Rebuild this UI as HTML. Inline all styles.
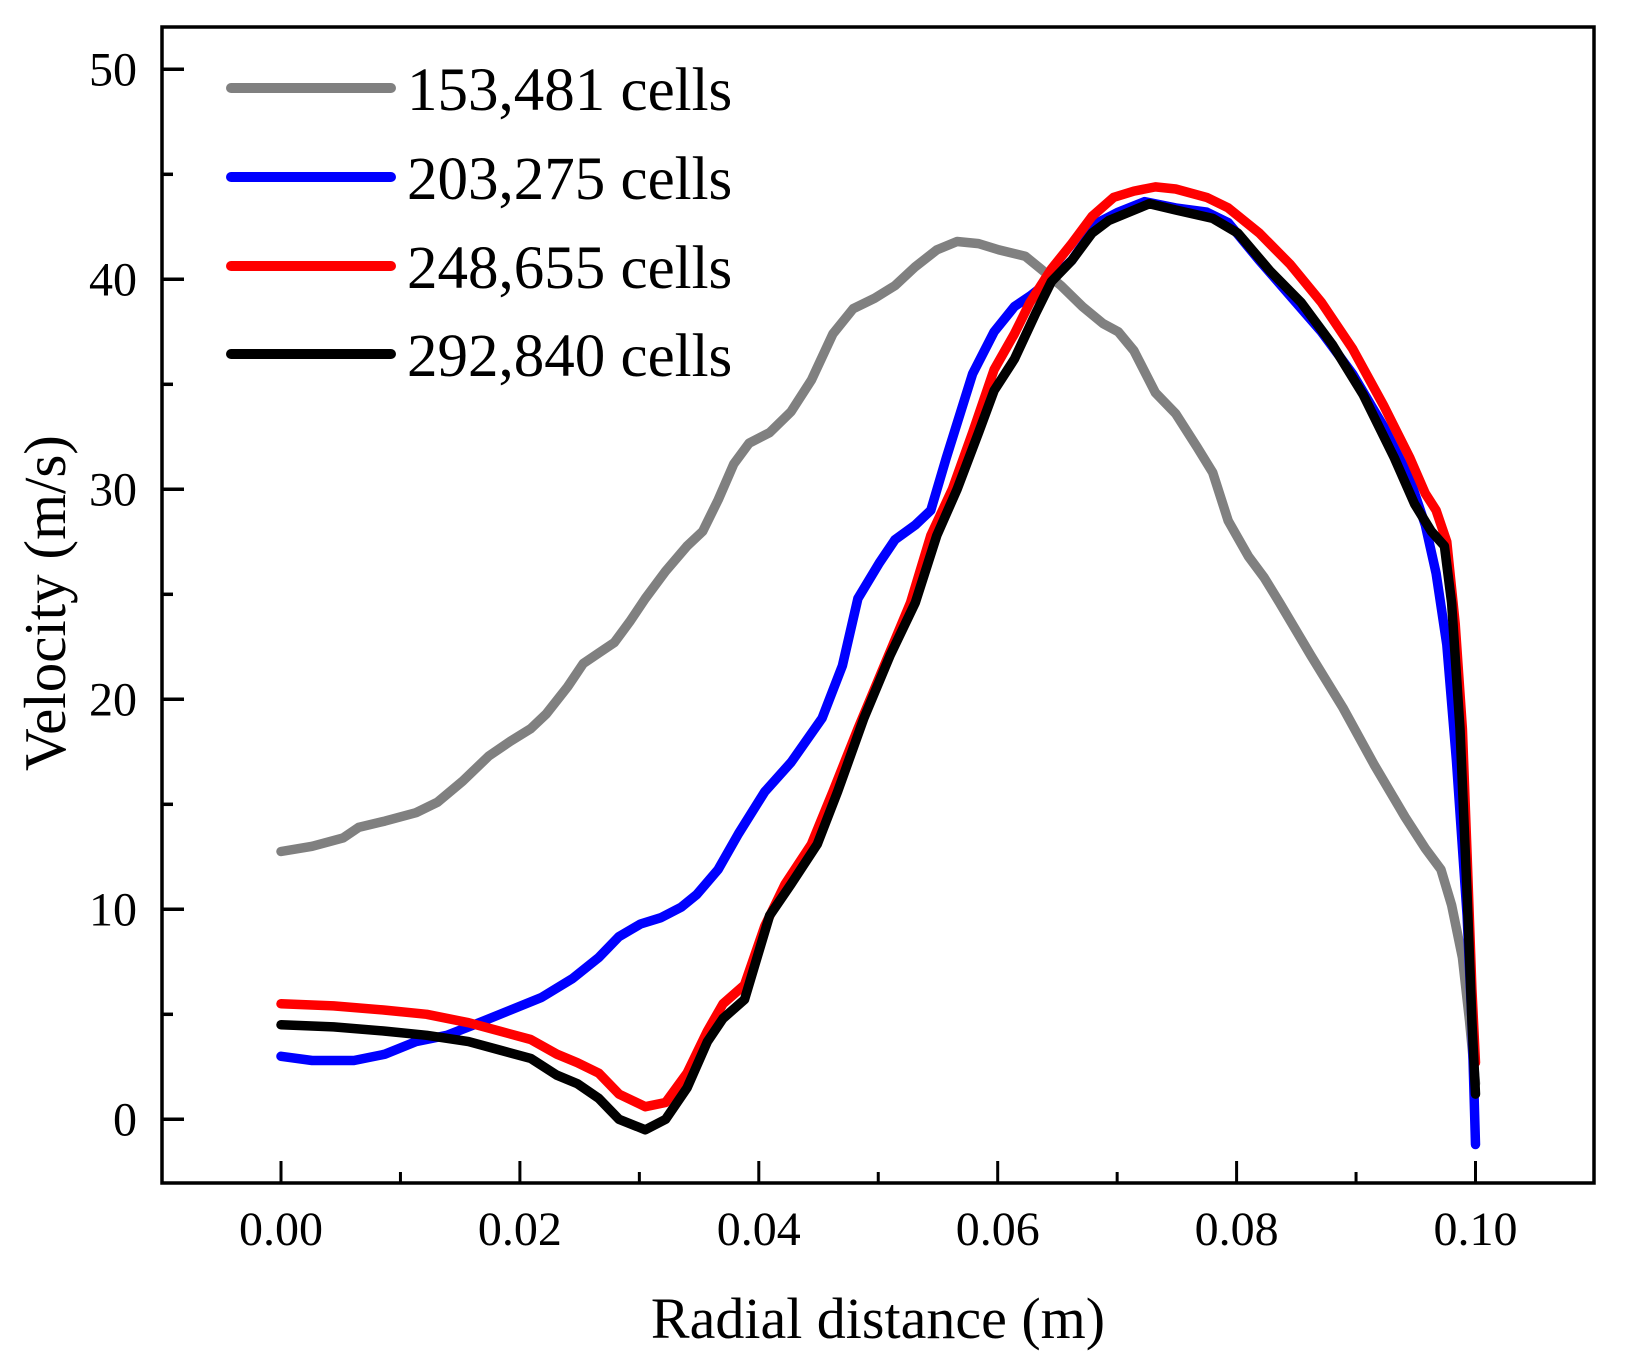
<!DOCTYPE html>
<html><head><meta charset="utf-8"><style>
html,body{margin:0;padding:0;background:#fff;}
svg{display:block;font-family:"Liberation Serif",serif;}
</style></head><body>
<svg id="chart" width="1632" height="1371" viewBox="0 0 1632 1371" xmlns="http://www.w3.org/2000/svg">
<g id="plot"></g>
<g id="axes"></g>
<g id="legend"></g>
<text x="878" y="1338" font-size="58" text-anchor="middle">Radial distance (m)</text>
<text transform="translate(65,603) rotate(-90)" font-size="59" text-anchor="middle">Velocity (m/s)</text>
</svg>
<script>
const seriesNames = ["153,481 cells","203,275 cells","248,655 cells","292,840 cells"];
const seriesColors = ["#808080","#0000ff","#ff0000","#000000"];
const xTicks = [0,0.02,0.04,0.06,0.08,0.10];
const xTickLabels = ["0.00","0.02","0.04","0.06","0.08","0.10"];
const yTicks = [0,10,20,30,40,50];
const yTickLabels = ["0","10","20","30","40","50"];

const grayX = [0,.0026,.0052,.0065,.0087,.0113,.0131,.0152,.0174,.0192,.0209,.0222,.0240,.0253,.0266,.0279,.0292,.0305,.0322,.0340,.0353,.0366,.0379,.0392,.0409,.0427,.0444,.0462,.0479,.0497,.0514,.0531,.0549,.0566,.0584,.0601,.0623,.0636,.0653,.0671,.0688,.0701,.0714,.0732,.0749,.0767,.0780,.0793,.0810,.0823,.0836,.0862,.0889,.0915,.0941,.0958,.0971,.0980,.0989,.0995,.1000];
const grayY = [12.75,13.0,13.4,13.9,14.2,14.6,15.1,16.1,17.3,18.0,18.6,19.3,20.6,21.7,22.2,22.7,23.7,24.8,26.1,27.3,28.0,29.5,31.2,32.2,32.7,33.7,35.2,37.4,38.6,39.1,39.7,40.6,41.4,41.8,41.7,41.4,41.1,40.5,39.7,38.7,37.9,37.5,36.6,34.6,33.6,32.0,30.8,28.5,26.8,25.8,24.6,22.1,19.6,16.9,14.4,12.9,11.9,10.2,7.7,4.7,1.7];
const blueX = [0,.0026,.0061,.0087,.0113,.0139,.0166,.0192,.0218,.0244,.0266,.0283,.0301,.0318,.0335,.0348,.0366,.0383,.0405,.0427,.0453,.0470,.0483,.0501,.0514,.0531,.0544,.0557,.0579,.0597,.0614,.0627,.0645,.0662,.0684,.0701,.0723,.0749,.0775,.0793,.0819,.0845,.0871,.0897,.0923,.0945,.0958,.0967,.0976,.0984,.0993,.0997,.1000];
const blueY = [3.0,2.8,2.8,3.1,3.7,4.0,4.6,5.2,5.8,6.7,7.7,8.7,9.3,9.6,10.1,10.7,11.9,13.6,15.6,17.0,19.1,21.6,24.8,26.5,27.6,28.3,29.0,31.5,35.5,37.5,38.7,39.2,40.0,40.9,42.7,43.2,43.7,43.4,43.2,42.7,40.9,39.2,37.5,35.5,33.0,30.5,28.3,26.0,22.6,17.1,9.7,4.7,-1.2];
const redX = [0,.0044,.0087,.0122,.0157,.0183,.0209,.0231,.0248,.0266,.0283,.0305,.0322,.0340,.0357,.0370,.0388,.0405,.0422,.0444,.0462,.0483,.0505,.0527,.0544,.0562,.0579,.0597,.0614,.0627,.0645,.0662,.0679,.0697,.0714,.0732,.0749,.0775,.0793,.0819,.0845,.0871,.0897,.0923,.0945,.0958,.0967,.0976,.0983,.0989,.0993,.0997,.1000];
const redY = [5.5,5.4,5.2,5.0,4.6,4.2,3.8,3.1,2.7,2.2,1.2,0.6,0.8,2.2,4.2,5.5,6.4,9.2,11.2,13.1,15.6,18.6,21.6,24.6,27.8,30.0,32.7,35.7,37.4,38.9,40.5,41.7,43.0,43.9,44.2,44.4,44.3,43.9,43.4,42.2,40.7,38.9,36.7,34.0,31.5,29.8,29.0,27.5,23.6,18.6,12.6,6.2,2.7];
const blackX = [0,.0044,.0087,.0122,.0157,.0183,.0209,.0231,.0248,.0266,.0283,.0305,.0322,.0340,.0357,.0370,.0388,.0409,.0427,.0449,.0466,.0488,.0510,.0531,.0549,.0566,.0584,.0597,.0614,.0632,.0645,.0662,.0679,.0693,.0710,.0727,.0749,.0780,.0801,.0828,.0854,.0880,.0906,.0932,.0949,.0963,.0974,.0980,.0987,.0993,.0997,.1000];
const blackY = [4.5,4.4,4.2,4.0,3.7,3.3,2.9,2.1,1.7,1.0,0.0,-0.5,0.0,1.5,3.7,4.8,5.7,9.7,11.2,13.1,15.6,19.1,22.1,24.6,27.8,30.0,32.7,34.7,36.2,38.4,39.9,40.9,42.2,42.8,43.2,43.6,43.3,42.9,42.2,40.4,38.9,36.9,34.5,31.5,29.3,28.0,27.3,24.6,18.6,10.7,4.7,1.2];

const NS = "http://www.w3.org/2000/svg";
const L = 162, R = 1594, T = 27, B = 1183;
function sx(v){ return 281 + (v - 0) * (1475.5 - 281) / 0.1; }
function sy(v){ return 1119.3 - v * (1119.3 - 69.3) / 50; }
function mk(tag, attrs, parent){ const e = document.createElementNS(NS, tag); for (const k in attrs) e.setAttribute(k, attrs[k]); parent.appendChild(e); return e; }

const plot = document.getElementById('plot');
const allX = [grayX, blueX, redX, blackX];
const allY = [grayY, blueY, redY, blackY];
const keys = ["gray","blue","red","black"];
for (let s = 0; s < 4; s++) {
  const d = allX[s].map((x, i) => (i ? 'L' : 'M') + sx(x).toFixed(1) + ' ' + sy(allY[s][i]).toFixed(1)).join(' ');
  const p = mk('path', {d: d, fill: 'none', stroke: seriesColors[s], 'stroke-width': 9.5, 'stroke-linejoin': 'round', 'stroke-linecap': 'round'}, plot);
  
  
}

const axes = document.getElementById('axes');
const frame = mk('rect', {x: L, y: T, width: R - L, height: B - T, fill: 'none', stroke: '#000', 'stroke-width': 3.5}, axes);


for (let i = 0; i < xTicks.length; i++) {
  const x = sx(xTicks[i]);
  const t = mk('line', {x1: x, x2: x, y1: B, y2: B - 22, stroke: '#000', 'stroke-width': 3}, axes);
  
  
  if (i < xTicks.length - 1) {
    const xm = sx(xTicks[i] + 0.01);
    const m = mk('line', {x1: xm, x2: xm, y1: B, y2: B - 11, stroke: '#000', 'stroke-width': 3}, axes);
    
    
  }
  const lb = mk('text', {x: x, y: 1245, 'font-size': 48, 'text-anchor': 'middle'}, axes);
  lb.textContent = xTickLabels[i];
  
  
}
for (let i = 0; i < yTicks.length; i++) {
  const y = sy(yTicks[i]);
  const t = mk('line', {x1: L, x2: L + 22, y1: y, y2: y, stroke: '#000', 'stroke-width': 3.5}, axes);
  
  
  if (i < yTicks.length - 1) {
    const ym = sy(yTicks[i] + 5);
    const m = mk('line', {x1: L, x2: L + 11, y1: ym, y2: ym, stroke: '#000', 'stroke-width': 3.5}, axes);
    
    
  }
  const lb = mk('text', {x: 137, y: y + 16, 'font-size': 48, 'text-anchor': 'end'}, axes);
  lb.textContent = yTickLabels[i];
  
  
}

const legend = document.getElementById('legend');
const legY = [88, 177, 266, 354];
for (let s = 0; s < 4; s++) {
  const ln = mk('line', {x1: 231, x2: 391, y1: legY[s], y2: legY[s], stroke: seriesColors[s], 'stroke-width': 10, 'stroke-linecap': 'round'}, legend);
  
  
  const tx = mk('text', {x: 407, y: legY[s] + 22, 'font-size': 61}, legend);
  tx.textContent = seriesNames[s];
  
  
}
</script>
</body></html>
